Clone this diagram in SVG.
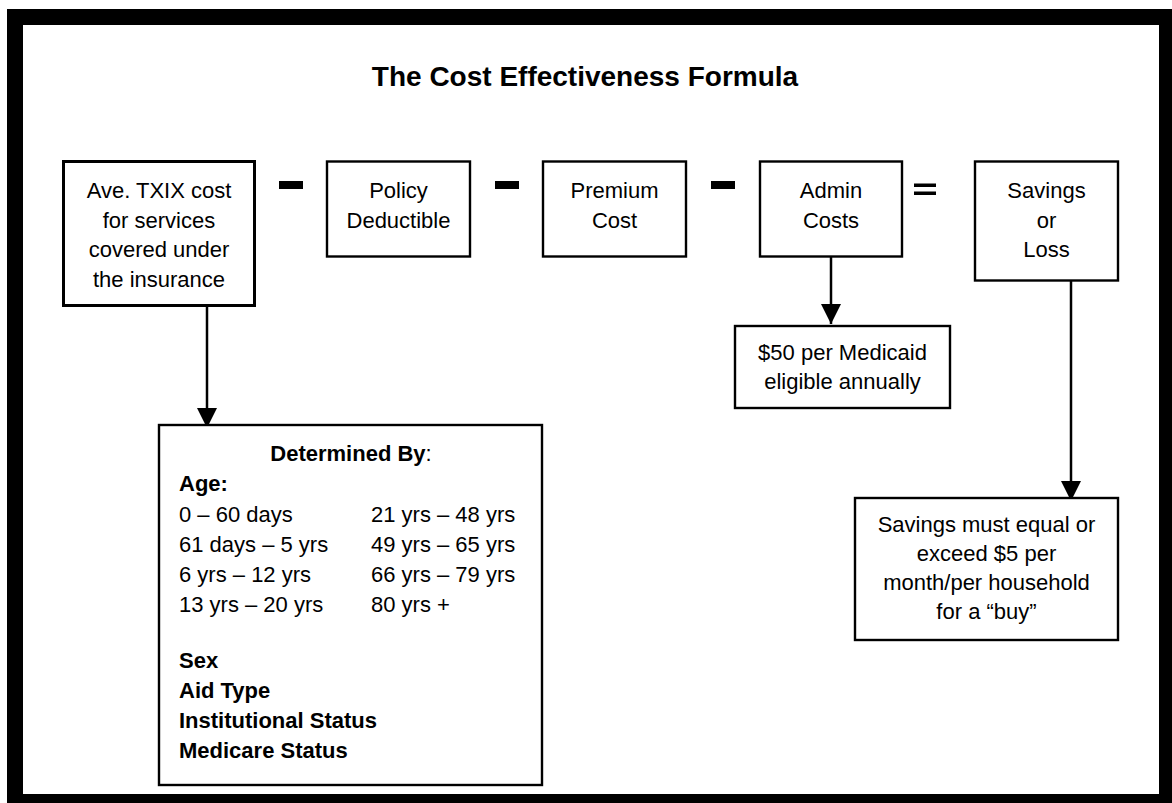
<svg xmlns="http://www.w3.org/2000/svg" width="1172" height="803" viewBox="0 0 1172 803">
<style>
  text { font-family: "Liberation Sans", Arial, sans-serif; font-size: 22px; fill: #000; }
  .c { text-anchor: middle; }
  .b { font-weight: bold; }
  .title { font-size: 28px; font-weight: bold; text-anchor: middle; }
  .box { fill: #fff; stroke: #000; stroke-width: 2.4; }
  .box1 { fill: #fff; stroke: #000; stroke-width: 3; }
  .op { fill: #000; }
  .conn { stroke: #000; stroke-width: 2.5; fill: none; }
</style>
<defs>
  <marker id="ah" viewBox="0 0 20 20" markerWidth="20" markerHeight="20" refX="20" refY="10" orient="auto" markerUnits="userSpaceOnUse">
    <path d="M0,0 L20,10 L0,20 z" fill="#000"/>
  </marker>
</defs>
<rect x="7" y="9" width="1165" height="794" fill="#000"/>
<rect x="23" y="25" width="1136" height="769" fill="#fff"/>
<text class="title" x="585" y="86">The Cost Effectiveness Formula</text>

<g id="connectors">
  <line class="conn" x1="207" y1="306" x2="207" y2="428" marker-end="url(#ah)"/>
  <line class="conn" x1="831" y1="257" x2="831" y2="324" marker-end="url(#ah)"/>
  <line class="conn" x1="1071" y1="281" x2="1071" y2="501" marker-end="url(#ah)"/>
</g>

<g id="operators">
  <rect class="op" x="279" y="181" width="24" height="8"/>
  <rect class="op" x="495" y="181" width="24" height="8"/>
  <rect class="op" x="711" y="181" width="24" height="8"/>
  <rect class="op" x="914" y="183.5" width="22" height="3.5"/>
  <rect class="op" x="914" y="191.5" width="22" height="3.5"/>
</g>

<g id="node-txix">
  <rect class="box1" x="63.5" y="161.5" width="191" height="144"/>
  <text class="c" x="159" y="198">Ave. TXIX cost</text>
  <text class="c" x="159" y="228">for services</text>
  <text class="c" x="159" y="257">covered under</text>
  <text class="c" x="159" y="287">the insurance</text>
</g>

<g id="node-deductible">
  <rect class="box" x="327" y="161.5" width="143" height="95"/>
  <text class="c" x="398.5" y="198">Policy</text>
  <text class="c" x="398.5" y="228">Deductible</text>
</g>

<g id="node-premium">
  <rect class="box" x="543" y="161.5" width="143" height="95"/>
  <text class="c" x="614.5" y="198">Premium</text>
  <text class="c" x="614.5" y="228">Cost</text>
</g>

<g id="node-admin">
  <rect class="box" x="760" y="161.5" width="142" height="95"/>
  <text class="c" x="831" y="198">Admin</text>
  <text class="c" x="831" y="228">Costs</text>
</g>

<g id="node-savings">
  <rect class="box" x="975" y="161.5" width="143" height="119"/>
  <text class="c" x="1046.5" y="198">Savings</text>
  <text class="c" x="1046.5" y="228">or</text>
  <text class="c" x="1046.5" y="257">Loss</text>
</g>

<g id="node-admin-detail">
  <rect class="box" x="735" y="326" width="215" height="82"/>
  <text class="c" x="842.5" y="360">$50 per Medicaid</text>
  <text class="c" x="842.5" y="389">eligible annually</text>
</g>

<g id="node-savings-rule">
  <rect class="box" x="855" y="498" width="263" height="142"/>
  <text class="c" x="986.5" y="532">Savings must equal or</text>
  <text class="c" x="986.5" y="561">exceed $5 per</text>
  <text class="c" x="986.5" y="590">month/per household</text>
  <text class="c" x="986.5" y="619">for a “buy”</text>
</g>

<g id="node-determined">
  <rect class="box" x="159" y="425" width="383" height="360"/>
  <text class="c" x="351" y="461"><tspan class="b">Determined By</tspan>:</text>
  <text class="b" x="179" y="491">Age:</text>
  <text x="179" y="522">0 – 60 days</text>
  <text x="179" y="552">61 days – 5 yrs</text>
  <text x="179" y="582">6 yrs – 12 yrs</text>
  <text x="179" y="612">13 yrs – 20 yrs</text>
  <text x="371" y="522">21 yrs – 48 yrs</text>
  <text x="371" y="552">49 yrs – 65 yrs</text>
  <text x="371" y="582">66 yrs – 79 yrs</text>
  <text x="371" y="612">80 yrs +</text>
  <text class="b" x="179" y="668">Sex</text>
  <text class="b" x="179" y="698">Aid Type</text>
  <text class="b" x="179" y="728">Institutional Status</text>
  <text class="b" x="179" y="758">Medicare Status</text>
</g>
</svg>
